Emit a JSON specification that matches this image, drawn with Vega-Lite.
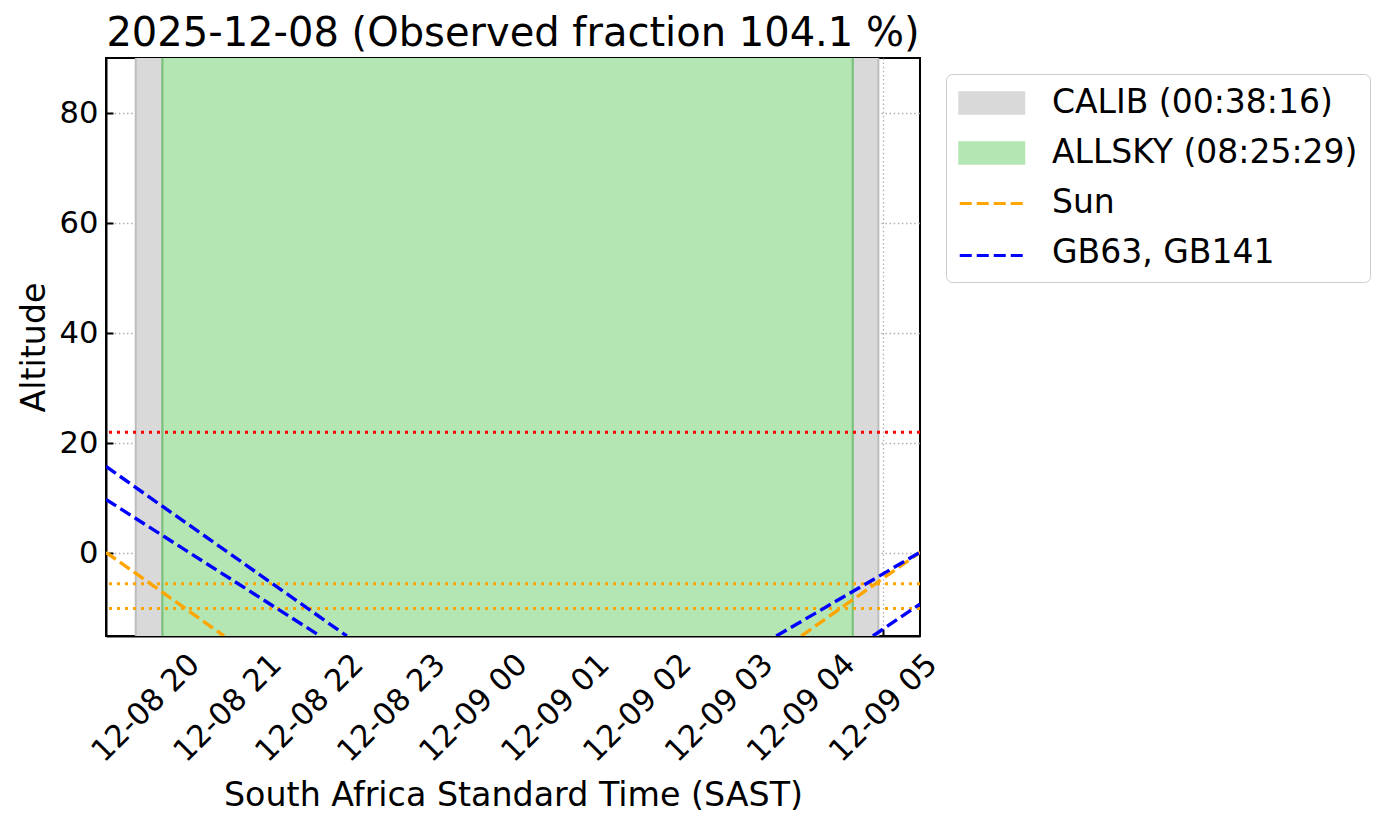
{
  "$schema": "https://vega.github.io/schema/vega-lite/v6.json",
  "width": 814,
  "height": 578,
  "autosize": {"type": "none"},
  "padding": {"left": 106, "top": 58, "right": 468, "bottom": 193},
  "background": "white",
  "title": {"text": "2025-12-08 (Observed fraction 104.1 %)", "fontSize": 40, "fontWeight": "normal", "font": "DejaVu Sans", "color": "black", "anchor": "middle", "offset": 3},
  "datasets": {
    "spans": [
      {"label": "CALIB (00:38:16)", "start": "2025-12-08T19:52:40Z", "end": "2025-12-08T20:12:10Z"},
      {"label": "CALIB (00:38:16)", "start": "2025-12-09T04:37:39Z", "end": "2025-12-09T04:56:25Z"},
      {"label": "ALLSKY (08:25:29)", "start": "2025-12-08T20:12:10Z", "end": "2025-12-09T04:37:39Z"}
    ],
    "limits": [
      {"alt": 22, "kind": "red"},
      {"alt": -5.5, "kind": "orange"},
      {"alt": -10, "kind": "orange"}
    ],
    "tracks": [
      {"object": "Sun", "track": "sun_eve", "time": "2025-12-08T19:30:54Z", "alt": 0.2},
      {"object": "Sun", "track": "sun_eve", "time": "2025-12-08T20:00:00Z", "alt": -4.9},
      {"object": "Sun", "track": "sun_eve", "time": "2025-12-08T20:57:20Z", "alt": -15},
      {"object": "Sun", "track": "sun_morn", "time": "2025-12-09T04:00:00Z", "alt": -15},
      {"object": "Sun", "track": "sun_morn", "time": "2025-12-09T05:26:54Z", "alt": 0.2},
      {"object": "GB63, GB141", "track": "gb_a_eve", "time": "2025-12-08T19:30:54Z", "alt": 15.8},
      {"object": "GB63, GB141", "track": "gb_a_eve", "time": "2025-12-08T20:00:00Z", "alt": 10.7},
      {"object": "GB63, GB141", "track": "gb_a_eve", "time": "2025-12-08T22:27:14Z", "alt": -15},
      {"object": "GB63, GB141", "track": "gb_b_eve", "time": "2025-12-08T19:30:54Z", "alt": 9.8},
      {"object": "GB63, GB141", "track": "gb_b_eve", "time": "2025-12-08T22:07:40Z", "alt": -15},
      {"object": "GB63, GB141", "track": "gb_a_morn", "time": "2025-12-09T03:41:38Z", "alt": -15},
      {"object": "GB63, GB141", "track": "gb_a_morn", "time": "2025-12-09T05:26:54Z", "alt": 0.2},
      {"object": "GB63, GB141", "track": "gb_b_morn", "time": "2025-12-09T04:52:27Z", "alt": -15},
      {"object": "GB63, GB141", "track": "gb_b_morn", "time": "2025-12-09T05:26:54Z", "alt": -9.2}
    ]
  },
  "layer": [
    {
      "data": {"name": "spans"},
      "mark": {"type": "rect", "opacity": 1},
      "encoding": {
        "x": {
          "field": "start", "type": "temporal",
          "scale": {"type": "utc", "domain": [{"year": 2025, "month": 12, "date": 8, "hours": 19, "minutes": 30, "seconds": 54, "utc": true}, {"year": 2025, "month": 12, "date": 9, "hours": 5, "minutes": 26, "seconds": 54, "utc": true}]},
          "axis": {
            "format": "%m-%d %H",
            "values": [
              {"year": 2025, "month": 12, "date": 8, "hours": 20, "utc": true},
              {"year": 2025, "month": 12, "date": 8, "hours": 21, "utc": true},
              {"year": 2025, "month": 12, "date": 8, "hours": 22, "utc": true},
              {"year": 2025, "month": 12, "date": 8, "hours": 23, "utc": true},
              {"year": 2025, "month": 12, "date": 9, "hours": 0, "utc": true},
              {"year": 2025, "month": 12, "date": 9, "hours": 1, "utc": true},
              {"year": 2025, "month": 12, "date": 9, "hours": 2, "utc": true},
              {"year": 2025, "month": 12, "date": 9, "hours": 3, "utc": true},
              {"year": 2025, "month": 12, "date": 9, "hours": 4, "utc": true},
              {"year": 2025, "month": 12, "date": 9, "hours": 5, "utc": true}
            ],
            "labelAngle": -45, "labelAlign": "center", "labelBaseline": "middle",
            "labelPadding": 79, "labelOverlap": false,
            "title": "South Africa Standard Time (SAST)", "titlePadding": 12
          }
        },
        "x2": {"field": "end"},
        "fill": {
          "field": "label", "type": "nominal",
          "scale": {"domain": ["CALIB (00:38:16)", "ALLSKY (08:25:29)", "Sun", "GB63, GB141"], "range": ["#d9d9d9", "#b3e6b3", "transparent", "transparent"]},
          "legend": {
            "title": null, "orient": "none", "legendX": 840, "legendY": 16,
            "padding": 12, "strokeColor": "#cccccc", "cornerRadius": 6,
            "labelFontSize": 33, "labelFont": "DejaVu Sans", "labelColor": "black", "labelLimit": 1000,
            "labelOffset": 60, "symbolSize": 1122, "rowPadding": 16,
            "symbolType": "M-1,-0.7H3V0.7H-1Z", "symbolStrokeColor": "transparent", "symbolStrokeWidth": 0, "symbolOpacity": 1
          }
        }
      }
    },
    {
      "data": {"name": "spans"},
      "transform": [{"filter": "datum.label === 'CALIB (00:38:16)'"}],
      "mark": {"type": "rule", "strokeWidth": 2, "color": "#bdbdbd"},
      "encoding": {"x": {"field": "start", "type": "temporal"}}
    },
    {
      "data": {"name": "spans"},
      "transform": [{"filter": "datum.label === 'CALIB (00:38:16)'"}],
      "mark": {"type": "rule", "strokeWidth": 2, "color": "#bdbdbd"},
      "encoding": {"x": {"field": "end", "type": "temporal"}}
    },
    {
      "data": {"name": "spans"},
      "transform": [{"filter": "datum.label === 'ALLSKY (08:25:29)'"}],
      "mark": {"type": "rule", "strokeWidth": 2, "color": "#77c577"},
      "encoding": {"x": {"field": "start", "type": "temporal"}}
    },
    {
      "data": {"name": "spans"},
      "transform": [{"filter": "datum.label === 'ALLSKY (08:25:29)'"}],
      "mark": {"type": "rule", "strokeWidth": 2, "color": "#77c577"},
      "encoding": {"x": {"field": "end", "type": "temporal"}}
    },
    {
      "data": {"name": "limits"},
      "mark": {"type": "rule", "strokeWidth": 3, "strokeDash": [3, 5]},
      "encoding": {
        "y": {"field": "alt", "type": "quantitative", "scale": {"domain": [-15, 90], "nice": false, "zero": false}},
        "stroke": {"condition": {"test": "datum.kind === 'red'", "value": "#ff0000"}, "value": "orange"}
      }
    },
    {
      "data": {"name": "tracks"},
      "mark": {"type": "line", "strokeWidth": 3.4, "strokeDash": [12, 5], "clip": true},
      "encoding": {
        "x": {"field": "time", "type": "temporal"},
        "y": {
          "field": "alt", "type": "quantitative",
          "scale": {"domain": [-15, 90], "nice": false, "zero": false},
          "axis": {"values": [0, 20, 40, 60, 80], "title": "Altitude", "titlePadding": 8, "labelPadding": 15}
        },
        "stroke": {
          "field": "object", "type": "nominal",
          "scale": {"domain": ["Sun", "GB63, GB141"], "range": ["orange", "blue"]},
          "legend": {
            "title": null, "orient": "none", "legendX": 840, "legendY": 115, "zindex": 1,
            "padding": 12, "strokeColor": "transparent",
            "labelFontSize": 33, "labelFont": "DejaVu Sans", "labelOpacity": 0, "labelLimit": 1000,
            "labelExpr": "' '",
            "labelOffset": 60, "symbolSize": 1122, "rowPadding": 16,
            "symbolType": "M-1,0H3", "symbolDash": [12, 5], "symbolStrokeWidth": 3.2, "symbolFillColor": "transparent", "symbolOpacity": 1
          }
        },
        "detail": {"field": "track"}
      }
    }
  ],
  "config": {
    "font": "DejaVu Sans",
    "view": {"stroke": "black", "strokeWidth": 2},
    "axis": {
      "zindex": 1,
      "domain": true, "domainColor": "black", "domainWidth": 2,
      "ticks": true, "tickColor": "black", "tickWidth": 2, "tickSize": -7,
      "grid": true, "gridColor": "#b0b0b0", "gridDash": [1.5, 2.6], "gridWidth": 1.3, "gridOpacity": 1,
      "labelFont": "DejaVu Sans", "labelFontSize": 30.6, "labelColor": "black",
      "titleFont": "DejaVu Sans", "titleFontSize": 33.3, "titleFontWeight": "normal", "titleColor": "black"
    }
  }
}
